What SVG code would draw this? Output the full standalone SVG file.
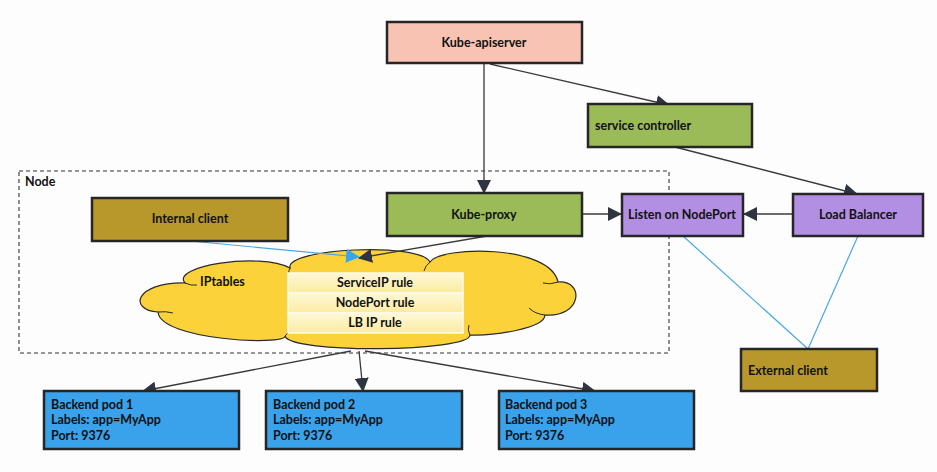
<svg xmlns="http://www.w3.org/2000/svg" width="937" height="472" viewBox="0 0 937 472">
<defs>
<style>
.box{stroke:#262626;stroke-width:2.5}
.t{font-family:Lato,"Liberation Sans",sans-serif;font-weight:bold;font-size:12.5px;fill:#111}
.c{text-anchor:middle}
.edge{fill:none;stroke:#3a3a3a;stroke-width:1.3}
.blue{fill:none;stroke:#4aa8e0;stroke-width:1.2}
.row{fill:url(#rg);stroke:#fffbe8;stroke-width:1.5}
</style>
<marker id="ah" viewBox="0 0 14 14" refX="13" refY="7" markerWidth="14" markerHeight="14" markerUnits="userSpaceOnUse" orient="auto">
<path d="M0,0 L14,7 L0,14 Z" fill="#2e3440"/>
</marker>
<marker id="ahb" viewBox="0 0 14 14" refX="13" refY="7" markerWidth="14" markerHeight="14" markerUnits="userSpaceOnUse" orient="auto">
<path d="M0,0 L14,7 L0,14 Z" fill="#3aa6ea"/>
</marker>
<linearGradient id="rg" x1="0" y1="0" x2="0" y2="1">
<stop offset="0" stop-color="#fef8d8"/>
<stop offset="1" stop-color="#fcebA0"/>
</linearGradient>
</defs>
<rect width="937" height="472" fill="#fdfdfd"/>

<g id="node-boundary">
<rect x="19" y="171" width="650" height="182" fill="none" stroke="#333" stroke-width="1.1" stroke-dasharray="4,3"/>
<text class="t" x="25" y="186">Node</text>
</g>

<g id="iptables">
<path d="M185,283 C170,266 260,252 290,268 C285,248 420,242 430,262 C440,246 550,244 558,282 C585,280 582,318 545,315 C545,328 495,336 470,335 C470,352 290,354 285,336 C285,346 160,340 158,312 C128,310 135,282 185,283 Z" fill="#fcd23a" stroke="#2a2a2a" stroke-width="1.2"/>
<path d="M185,283 q6,3 12,2 M290,268 q-3,5 1,10 M430,262 q-5,4 -6,9 M558,282 q-8,3 -15,1 M545,315 q-10,-1 -16,-7 M470,335 q-3,-5 -1,-10 M285,336 q3,-5 10,-7 M158,312 q8,-1 15,1" fill="none" stroke="#2a2a2a" stroke-width="1"/>
<text class="t" x="200" y="286">IPtables</text>
<rect class="row" x="288" y="273" width="175" height="20"/>
<rect class="row" x="288" y="293" width="175" height="20"/>
<rect class="row" x="288" y="313" width="175" height="20"/>
<text class="t c" x="375" y="287">ServiceIP rule</text>
<text class="t c" x="375" y="307">NodePort rule</text>
<text class="t c" x="375" y="327">LB IP rule</text>
</g>

<g id="connectors">
<path class="edge" d="M484,63 L484,193" marker-end="url(#ah)"/>
<path class="edge" d="M490,64 L669,105" marker-end="url(#ah)"/>
<path class="edge" d="M675,147 L857,194" marker-end="url(#ah)"/>
<path class="edge" d="M582,214 L621,214" marker-end="url(#ah)"/>
<path class="edge" d="M793,214 L744,214" marker-end="url(#ah)"/>
<path class="edge" d="M487,236 L359,258" marker-end="url(#ah)"/>
<path class="blue" d="M190,241 L359,257" stroke-width="1.5" marker-end="url(#ahb)"/>
<path class="blue" d="M683,236 L808,349"/>
<path class="blue" d="M858,236 L808,349"/>
<path class="edge" d="M351,351 L143,391" marker-end="url(#ah)"/>
<path class="edge" d="M359,351 L363,391" marker-end="url(#ah)"/>
<path class="edge" d="M365,351 L595,391" marker-end="url(#ah)"/>
</g>

<g id="kube-apiserver">
<rect class="box" x="387" y="22" width="195" height="41" fill="#f9c3b3"/>
<text class="t c" x="484" y="47">Kube-apiserver</text>
</g>

<g id="service-controller">
<rect class="box" x="588" y="104" width="164" height="43" fill="#9bbb59"/>
<text class="t" x="595" y="130">service controller</text>
</g>

<g id="kube-proxy">
<rect class="box" x="387" y="193" width="195" height="43" fill="#9bbb59"/>
<text class="t c" x="484" y="219">Kube-proxy</text>
</g>

<g id="listen-nodeport">
<rect class="box" x="622" y="194" width="121" height="42" fill="#b28fe2"/>
<text class="t c" x="682" y="219">Listen on NodePort</text>
</g>

<g id="load-balancer">
<rect class="box" x="793" y="194" width="130" height="42" fill="#b28fe2"/>
<text class="t c" x="858" y="219">Load Balancer</text>
</g>

<g id="internal-client">
<rect class="box" x="92" y="198" width="196" height="43" fill="#b8982b"/>
<text class="t c" x="190" y="223">Internal client</text>
</g>

<g id="external-client">
<rect class="box" x="741" y="349" width="136" height="42" fill="#b8982b"/>
<text class="t" x="748" y="375">External client</text>
</g>

<g id="pod1">
<rect class="box" x="44" y="391" width="195" height="58" fill="#3aa2ea"/>
<text class="t" x="51" y="409">Backend pod 1</text>
<text class="t" x="51" y="424">Labels: app=MyApp</text>
<text class="t" x="51" y="440">Port: 9376</text>
</g>

<g id="pod2">
<rect class="box" x="266" y="391" width="196" height="58" fill="#3aa2ea"/>
<text class="t" x="273" y="409">Backend pod 2</text>
<text class="t" x="273" y="424">Labels: app=MyApp</text>
<text class="t" x="273" y="440">Port: 9376</text>
</g>

<g id="pod3">
<rect class="box" x="499" y="391" width="195" height="58" fill="#3aa2ea"/>
<text class="t" x="505" y="409">Backend pod 3</text>
<text class="t" x="505" y="424">Labels: app=MyApp</text>
<text class="t" x="505" y="440">Port: 9376</text>
</g>
</svg>
